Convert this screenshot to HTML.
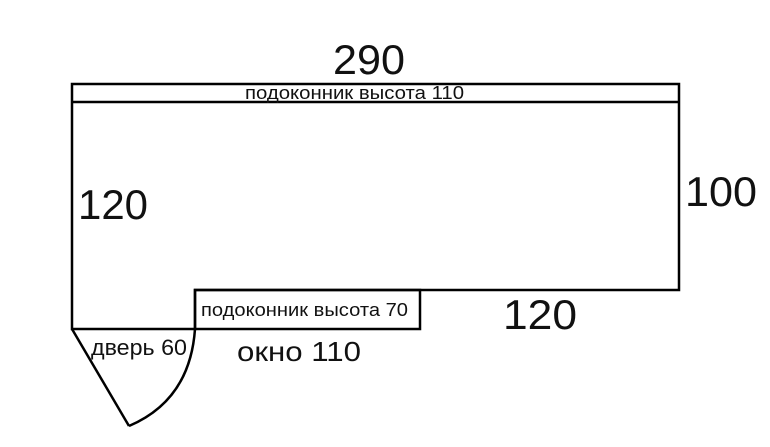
<!DOCTYPE html>
<html><head><meta charset="utf-8"><style>
body{margin:0;background:#fff;}
svg{display:block}
text{font-family:"Liberation Sans","DejaVu Sans",sans-serif;fill:#111}
</style></head><body>
<svg width="770" height="447" viewBox="0 0 770 447" xmlns="http://www.w3.org/2000/svg">
<g fill="none" stroke="#000" stroke-width="2.5">
<path d="M72 84 H679 V290 H195 V329 H72 Z"/>
<line x1="72" y1="102" x2="679" y2="102"/>
<rect x="195" y="290" width="225" height="39"/>
<path d="M72 329 L129 426"/>
<path d="M129 426 Q190 400 195 329"/>
</g>
<text x="333" y="74" font-size="42" textLength="72" lengthAdjust="spacingAndGlyphs">290</text>
<text x="245" y="99" font-size="18" textLength="219" lengthAdjust="spacingAndGlyphs">подоконник высота 110</text>
<text x="78" y="219" font-size="42" textLength="70" lengthAdjust="spacingAndGlyphs">120</text>
<text x="685" y="206" font-size="42" textLength="72" lengthAdjust="spacingAndGlyphs">100</text>
<text x="503" y="329" font-size="42" textLength="74" lengthAdjust="spacingAndGlyphs">120</text>
<text x="201" y="316" font-size="18" textLength="207" lengthAdjust="spacingAndGlyphs">подоконник высота 70</text>
<text x="237" y="361" font-size="28" textLength="124" lengthAdjust="spacingAndGlyphs">окно 110</text>
<text x="91" y="355" font-size="22" textLength="96" lengthAdjust="spacingAndGlyphs">дверь 60</text>
</svg>
</body></html>
